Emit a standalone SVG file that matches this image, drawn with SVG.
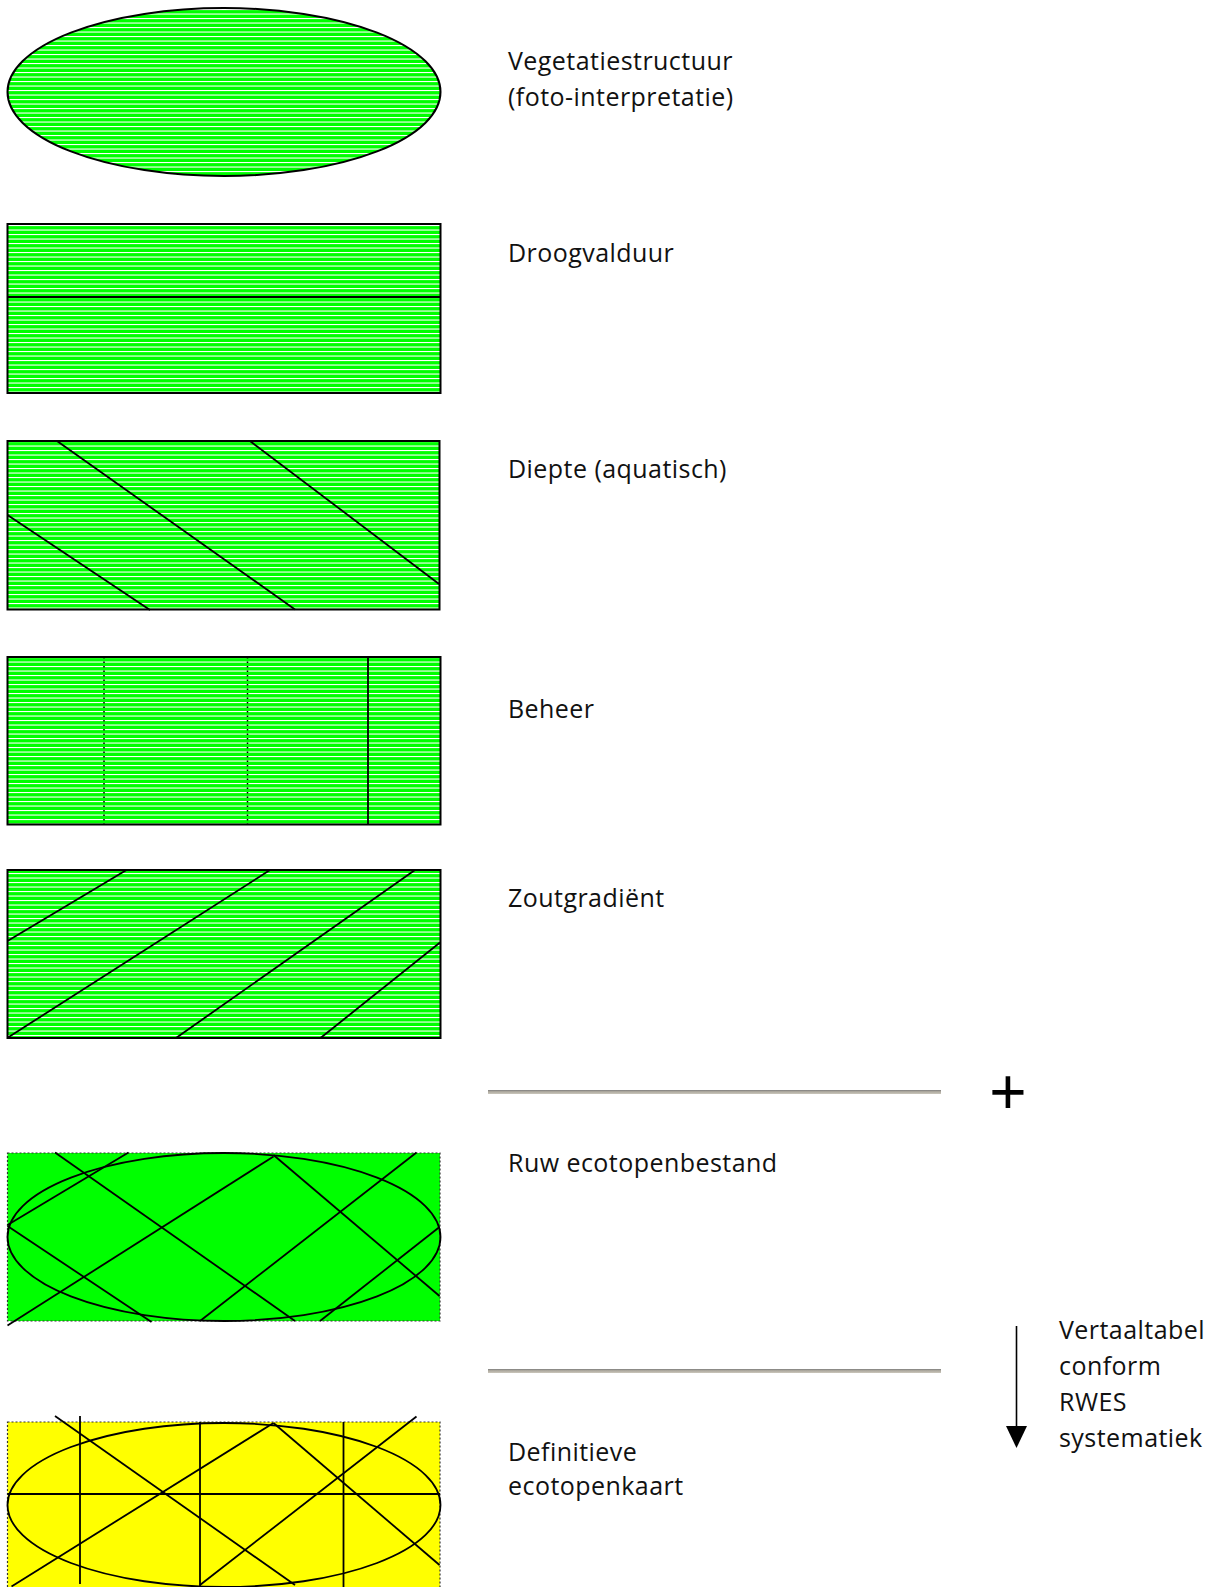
<svg xmlns="http://www.w3.org/2000/svg" width="1213" height="1587" viewBox="0 0 1213 1587">
  <style>
    .label { font-family: "Open Sans", "Noto Sans", "Liberation Sans", sans-serif; font-size: 25px; letter-spacing: 0.45px; fill: #111; }
    .frame { stroke: #000; stroke-width: 2; }
    .cut { stroke: #000; stroke-width: 1.8; fill: none; }
    .dots { stroke: #000; stroke-width: 1.5; stroke-dasharray: 1.5 3; fill: none; }
    .dashframe { stroke: #333; stroke-width: 1.2; stroke-dasharray: 2 2; }
  </style>
  <defs>
    <!-- green fill striped with thin white horizontal lines -->
    <pattern id="stripes" patternUnits="userSpaceOnUse" x="0" y="0" width="9" height="9">
      <rect width="9" height="9" fill="#00ff00"/>
      <rect y="0" width="9" height="1.1" fill="#ffffff"/>
      <rect y="4.5" width="9" height="1.1" fill="#ffffff"/>
    </pattern>
    <linearGradient id="bar" x1="0" y1="0" x2="0" y2="1">
      <stop offset="0" stop-color="#7c7c7c"/>
      <stop offset="0.35" stop-color="#a9a59b"/>
      <stop offset="1" stop-color="#cbc7bc"/>
    </linearGradient>
    <!-- text frame of the first label ends just after the closing bracket -->
    <clipPath id="labelBox"><rect x="500" y="40" width="237" height="80"/></clipPath>
  </defs>

  <!-- layer 1: vegetation structure -->
  <g id="vegetatie">
    <ellipse cx="224" cy="92" rx="216.5" ry="84" fill="url(#stripes)" stroke="#000" stroke-width="2"/>
  </g>

  <!-- layer 2: drying duration -->
  <g id="droogvalduur">
    <rect x="7.5" y="224" width="433" height="169" fill="url(#stripes)" class="frame"/>
    <line x1="7.5" y1="297" x2="440.5" y2="297" class="cut"/>
  </g>

  <!-- layer 3: depth -->
  <g id="diepte">
    <rect x="7.5" y="441" width="432" height="168.5" fill="url(#stripes)" class="frame"/>
    <line x1="57" y1="441" x2="295" y2="609.5" class="cut"/>
    <line x1="250" y1="441" x2="439" y2="584" class="cut"/>
    <line x1="7.5" y1="515" x2="150" y2="610" class="cut"/>
  </g>

  <!-- layer 4: management -->
  <g id="beheer">
    <rect x="7.5" y="657" width="433" height="167.5" fill="url(#stripes)" class="frame"/>
    <line x1="104" y1="657" x2="104" y2="824" class="dots"/>
    <line x1="247.5" y1="657" x2="247.5" y2="824" class="dots"/>
    <line x1="368" y1="657" x2="368" y2="824.5" class="cut" stroke-width="2"/>
  </g>

  <!-- layer 5: salinity gradient -->
  <g id="zoutgradient">
    <rect x="7.5" y="870" width="433" height="168" fill="url(#stripes)" class="frame"/>
    <line x1="7.5" y1="941" x2="126.5" y2="870" class="cut"/>
    <line x1="8" y1="1037.5" x2="270" y2="870" class="cut"/>
    <line x1="176" y1="1038" x2="415" y2="870" class="cut"/>
    <line x1="320.5" y1="1038" x2="440" y2="942.5" class="cut"/>
  </g>

  <!-- overlay result: raw ecotope file -->
  <g id="ruw">
    <rect x="7.5" y="1153" width="432.5" height="168" fill="#00ff00" class="dashframe"/>
    <ellipse cx="224" cy="1237" rx="216.5" ry="84" class="cut"/>
    <line x1="7.5" y1="1226" x2="151.5" y2="1322" class="cut"/>
    <line x1="55" y1="1152.5" x2="295" y2="1321" class="cut"/>
    <line x1="273.5" y1="1155" x2="439.5" y2="1296" class="cut"/>
    <line x1="7.5" y1="1325.5" x2="273.5" y2="1156.5" class="cut"/>
    <line x1="7.5" y1="1225" x2="128.5" y2="1152.5" class="cut"/>
    <line x1="200" y1="1321" x2="416.5" y2="1152.5" class="cut"/>
    <line x1="320" y1="1321" x2="439.5" y2="1227" class="cut"/>
  </g>

  <!-- final ecotope map -->
  <g id="definitief">
    <rect x="7.5" y="1422" width="432.5" height="180" fill="#ffff00" class="dashframe"/>
    <ellipse cx="224" cy="1505" rx="216.5" ry="82" class="cut"/>
    <line x1="80" y1="1416" x2="80" y2="1584" class="cut"/>
    <line x1="200" y1="1422" x2="200" y2="1600" class="cut"/>
    <line x1="343.5" y1="1422" x2="343.5" y2="1600" class="cut"/>
    <line x1="7.5" y1="1494" x2="440" y2="1494" class="cut"/>
    <line x1="55" y1="1416" x2="295" y2="1585" class="cut"/>
    <line x1="273.5" y1="1423" x2="439.5" y2="1565" class="cut"/>
    <line x1="11.5" y1="1586.5" x2="273.5" y2="1423" class="cut"/>
    <line x1="200" y1="1585" x2="416.5" y2="1416.5" class="cut"/>
  </g>

  <!-- labels -->
  <g id="labels">
    <g clip-path="url(#labelBox)">
      <text class="label" x="508" y="70">Vegetatiestructuur</text>
      <text class="label" x="508" y="106">(foto-interpretatie)</text>
    </g>
    <text class="label" x="508" y="262">Droogvalduur</text>
    <text class="label" x="508" y="478">Diepte (aquatisch)</text>
    <text class="label" x="508" y="718">Beheer</text>
    <text class="label" x="508" y="907">Zoutgradiënt</text>
    <text class="label" x="508" y="1172">Ruw ecotopenbestand</text>
    <text class="label" x="508" y="1461">Definitieve</text>
    <text class="label" x="508" y="1495">ecotopenkaart</text>
    <text class="label" x="1059" y="1339">Vertaaltabel</text>
    <text class="label" x="1059" y="1375">conform</text>
    <text class="label" x="1059" y="1411">RWES</text>
    <text class="label" x="1059" y="1447">systematiek</text>
  </g>

  <!-- connectors: separators, plus sign and translation arrow -->
  <g id="connectors">
    <rect x="488" y="1090" width="453" height="4" fill="url(#bar)"/>
    <rect x="488" y="1369" width="453" height="4" fill="url(#bar)"/>
    <text x="1008" y="1114" text-anchor="middle" font-family="Liberation Sans, sans-serif" font-size="64" fill="#000">+</text>
    <line x1="1016.5" y1="1326" x2="1016.5" y2="1430" stroke="#000" stroke-width="1.6"/>
    <polygon points="1006,1426 1027,1426 1016.5,1448" fill="#000"/>
  </g>
</svg>
